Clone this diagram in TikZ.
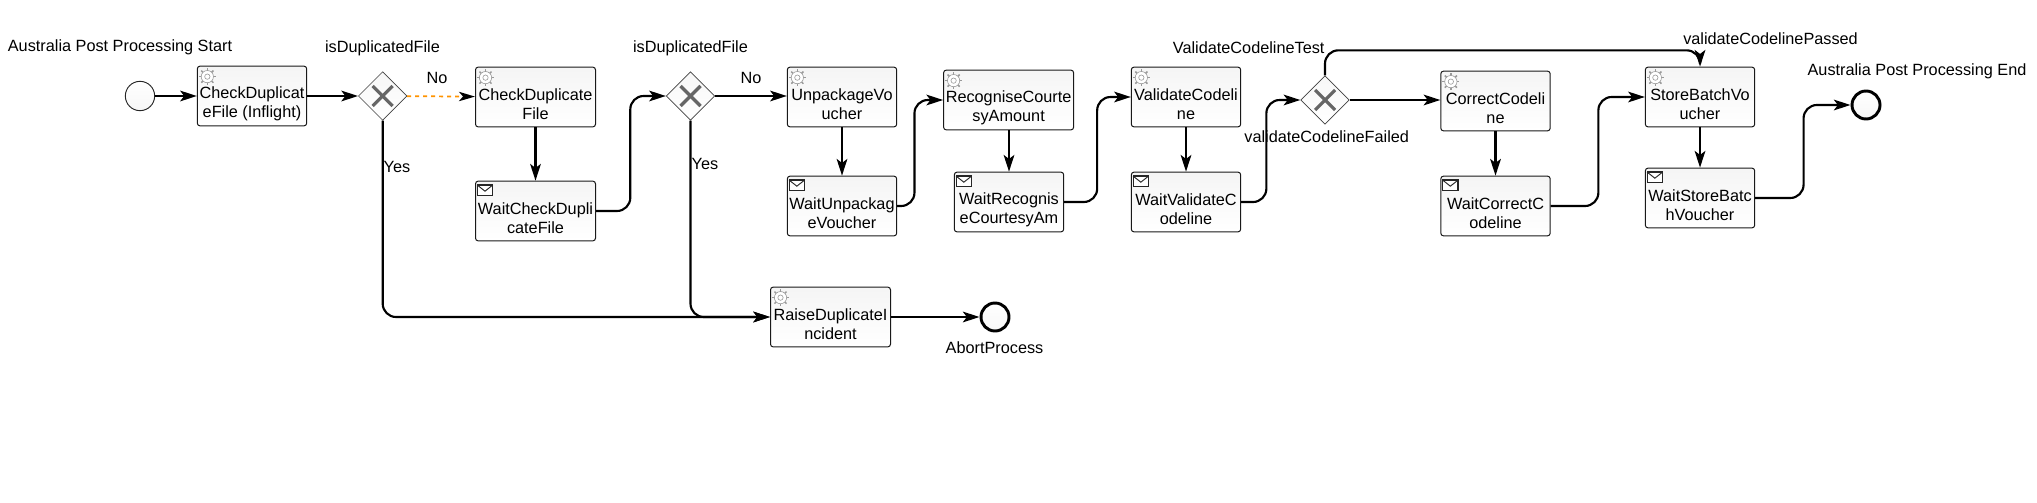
\documentclass[tikz,border=0pt]{standalone}
\usepackage{fontspec}
\setmainfont{Liberation Sans}
\usetikzlibrary{arrows.meta,shapes.geometric}

\newcommand{\taskgap}{\rule{0pt}{20pt}}

\tikzset{
  taskbox/.style={draw=black!90,line width=0.75pt,rounded corners=2pt,top color=black!4,bottom color=white,
    minimum width=#1,minimum height=44.8pt,inner sep=0pt,align=center,
    font=\fontsize{12.2}{14.25}\selectfont},
  taskbox/.default=82pt,
  gateway/.style={draw=black!75,line width=0.5pt,diamond,top color=black!3,bottom color=white,
    minimum width=36.5pt,minimum height=36.5pt,inner sep=0pt},
  startevent/.style={draw=black!85,line width=0.7pt,circle,top color=white,bottom color=black!3,
    minimum size=22pt,inner sep=0pt},
  endevent/.style={draw=black,line width=2.2pt,circle,top color=white,bottom color=black!3,
    minimum size=21pt,inner sep=0pt},
  flow/.style={draw=black,line width=1.6pt,rounded corners=10pt,
    -{Stealth[length=12.5pt,width=8pt,inset=3pt]}},
  flowno/.style={flow,draw=orange!85!yellow,line width=1.3pt,dashed,
    -{Stealth[black,length=12pt,width=7pt,inset=3pt]}},
  caption/.style={font=\fontsize{12.2}{14.25}\selectfont,inner sep=0pt},
  gearicon/.pic={
    \foreach \a in {0,45,...,315}
      \draw[black!40,line width=1.1pt] (\a:4.4pt) -- (\a:6.4pt);
    \draw[black!40,line width=0.45pt,fill=white] (0,0) circle (4.6pt);
    \draw[black!40,line width=0.45pt] (0,0) circle (2pt);
  },
  mailicon/.pic={
    \draw[black!85,line width=0.9pt,fill=white] (-5.8pt,-3.8pt) rectangle (5.8pt,3.8pt);
    \draw[black!85,line width=0.7pt] (-5.8pt,3.8pt) -- (0,-0.8pt) -- (5.8pt,3.8pt);
  }
}

\begin{document}
\begin{tikzpicture}[x=0.75pt,y=-0.75pt]
\useasboundingbox (0,0) rectangle (2037,503);

\node[startevent] (start) at (140,96) {};
\node[taskbox] (inflight) at (252,96) {\taskgap CheckDuplicat\\eFile (Inflight)};
\node[gateway] (firsttest) at (382.7,96) {};
\node[taskbox=90pt] (checkfile) at (535.5,97) {\taskgap CheckDuplicate\\File};
\node[taskbox=90pt] (waitcheck) at (535.5,211) {\taskgap WaitCheckDupli\\cateFile};
\node[gateway] (secondtest) at (690.5,96) {};
\node[taskbox] (unpack) at (842,97) {\taskgap UnpackageVo\\ucher};
\node[taskbox] (waitunpack) at (842,206) {\taskgap WaitUnpackag\\eVoucher};
\node[taskbox=97.5pt] (recognise) at (1008.6,100) {\taskgap RecogniseCourte\\syAmount};
\node[taskbox] (waitrecognise) at (1009,202) {\taskgap WaitRecognis\\eCourtesyAm};
\node[taskbox] (validate) at (1186,97) {\taskgap ValidateCodeli\\ne};
\node[taskbox] (waitvalidate) at (1186,202) {\taskgap WaitValidateC\\odeline};
\node[gateway] (thirdtest) at (1325,100) {};
\node[taskbox] (correct) at (1495.5,101) {\taskgap CorrectCodeli\\ne};
\node[taskbox] (waitcorrect) at (1495.5,206) {\taskgap WaitCorrectC\\odeline};
\node[taskbox] (store) at (1700,97) {\taskgap StoreBatchVo\\ucher};
\node[taskbox] (waitstore) at (1700,198) {\taskgap WaitStoreBatc\\hVoucher};
\node[taskbox=90pt] (raise) at (830.5,317) {\taskgap RaiseDuplicateI\\ncident};
\node[endevent] (abort) at (995,317) {};
\node[endevent] (finish) at (1866,105) {};

\foreach \t in {inflight,checkfile,unpack,recognise,validate,correct,store,raise}
  \pic at ([shift={(10.5,11)}]\t.north west) {gearicon};
\foreach \t in {waitcheck,waitunpack,waitrecognise,waitvalidate,waitcorrect,waitstore}
  \pic at ([shift={(10,9.5)}]\t.north west) {mailicon};
\foreach \t in {firsttest,secondtest,thirdtest}{
  \draw[black!60,line width=2.4pt] ([shift={(-10,-10)}]\t.center) -- ([shift={(10,10)}]\t.center);
  \draw[black!60,line width=2.4pt] ([shift={(-10,10)}]\t.center) -- ([shift={(10,-10)}]\t.center);
}

\draw[flow] (start) -- (inflight);
\draw[flow] (inflight) -- (firsttest);
\draw[flowno] (firsttest) -- (checkfile);
\draw[flow] (checkfile) -- (waitcheck);
\draw[flow] (waitcheck.east) -- ++(34.3,0) |- (secondtest.west);
\draw[flow] (firsttest.south) |- (raise.west);
\draw[flow] (secondtest.south) |- (raise.west);
\draw[flow] (secondtest) -- (unpack.west |- secondtest);
\draw[flow] (unpack) -- (waitunpack);
\draw[flow] (waitunpack.east) -- ++(17.3,0) |- (recognise.west);
\draw[flow] (recognise.south -| waitrecognise) -- (waitrecognise);
\draw[flow] (waitrecognise.east) -- ++(33,0) |- (validate.west);
\draw[flow] (validate) -- (waitvalidate);
\draw[flow] (waitvalidate.east) -- ++(25.2,0) |- (thirdtest.west);
\draw[flow] (thirdtest) -- (correct.west |- thirdtest);
\draw[flow] (thirdtest.north) -- ++(0,-25) -| (store.north);
\draw[flow] (correct) -- (waitcorrect);
\draw[flow] (waitcorrect.east) -- ++(47.7,0) |- (store.west);
\draw[flow] (store) -- (waitstore);
\draw[flow] (waitstore.east) -- ++(48.4,0) |- (finish.west);
\draw[flow] (raise) -- (abort);

\node[caption] (startname) at (120,47) {Australia Post Processing Start};
\node[caption] (firstname) at (382.5,48) {isDuplicatedFile};
\node[caption] (firstno) at (437,78) {No};
\node[caption] (firstyes) at (397,167) {Yes};
\node[caption] (secondname) at (690.5,48) {isDuplicatedFile};
\node[caption] (secondno) at (751,78) {No};
\node[caption] (secondyes) at (705,164) {Yes};
\node[caption] (thirdname) at (1248.7,48) {ValidateCodelineTest};
\node[caption] (failedname) at (1326.7,137) {validateCodelineFailed};
\node[caption] (passedname) at (1770.5,38.7) {validateCodelinePassed};
\node[caption] (finishname) at (1917,71.7) {Australia Post Processing End};
\node[caption] (abortname) at (994.5,348) {AbortProcess};
\end{tikzpicture}
\end{document}
